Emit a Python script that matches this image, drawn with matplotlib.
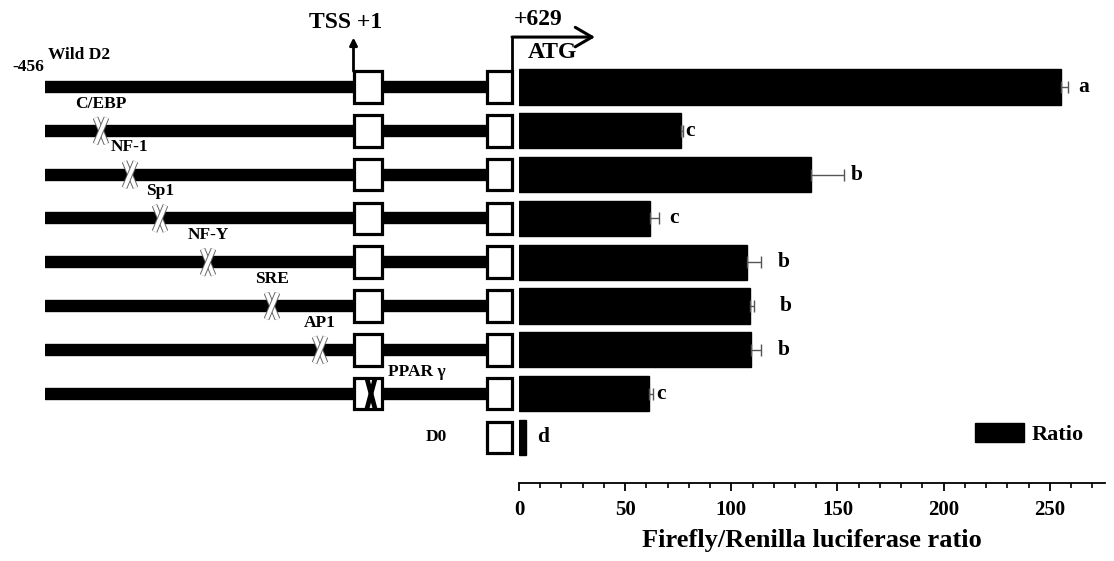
import matplotlib
matplotlib.use("Agg")
import matplotlib.pyplot as plt
import matplotlib.patheffects as pe
from matplotlib.patches import Rectangle
from matplotlib.ticker import MultipleLocator
import numpy as np

# ---------------- data ----------------
constructs = ["Wild D2", "C/EBP", "NF-1", "Sp1", "NF-Y", "SRE", "AP1", "PPAR γ", "D0"]
ratio = [255.5, 76.2, 137.5, 61.8, 107.3, 108.6, 109.4, 61.0, 3.2]
ratio_err = [3.3, 1.0, 15.6, 4.0, 6.9, 2.1, 4.4, 1.9, 0.0]
sig_letters = ["a", "c", "b", "c", "b", "b", "b", "c", "d"]
xticks = [0, 50, 100, 150, 200, 250]

# schematic layout (pixel-like x for the promoter diagram)
mut_sites = ["C/EBP", "NF-1", "Sp1", "NF-Y", "SRE", "AP1"]
mut_x = [101, 130, 160, 208, 272, 320]
letter_x = [266, 80.5, 159, 73, 124.5, 125.5, 124.5, 67, 11.5]

FONT = "Liberation Serif"
plt.rcParams["font.family"] = [FONT, "DejaVu Serif"]
plt.rcParams["font.weight"] = "bold"

W, H = 1114, 561
fig = plt.figure(figsize=(W / 100, H / 100), dpi=100)

row0_px = 87.0
row_step = 43.8
axis_px = 483.0
x0_px = 519.0
xend_px = 1105.0
xmax = 276.0

top_row = -row0_px / row_step
bot_row_ax = (axis_px - row0_px) / row_step
bot_row_fig = (H - row0_px) / row_step

# overlay axes for schematic (x in pixels, y in row units)
ax0 = fig.add_axes([0, 0, 1, 1])
ax0.set_xlim(0, W)
ax0.set_ylim(bot_row_fig, top_row)
ax0.axis("off")

# bar axes
ax = fig.add_axes([x0_px / W, 1 - axis_px / H, (xend_px - x0_px) / W, axis_px / H])
ax.set_xlim(0, xmax)
ax.set_ylim(bot_row_ax, top_row)
ax.patch.set_alpha(0)

rows = np.arange(len(constructs))
bars = ax.barh(rows, ratio, height=0.8, color="black", edgecolor="black", label="Ratio")
err = np.array(ratio_err)
m = err > 0
ax.errorbar(np.array(ratio)[m], rows[m], xerr=[np.zeros(m.sum()), err[m]], fmt="none",
            ecolor="#555555", elinewidth=1.0, capsize=4, capthick=1.0)
for r, lx, t in zip(rows, letter_x, sig_letters):
    ax.text(lx, r, t, ha="center", va="center", fontsize=15.5, fontweight="bold")

for s in ["top", "right", "left"]:
    ax.spines[s].set_visible(False)
ax.spines["bottom"].set_linewidth(1.3)
ax.set_yticks([])
ax.set_xticks(xticks)
ax.xaxis.set_minor_locator(MultipleLocator(10))
ax.tick_params(axis="x", which="major", length=6, width=1.3, labelsize=15, pad=6)
ax.tick_params(axis="x", which="minor", length=3.5, width=1.2)
for lab in ax.get_xticklabels():
    lab.set_fontweight("bold")
ax.set_xlabel("Firefly/Renilla luciferase ratio", fontsize=19, fontweight="bold", labelpad=7)

leg = ax.legend(handles=[bars], loc="center left",
                bbox_to_anchor=(975 / W, 1 - 434 / H), bbox_transform=fig.transFigure,
                frameon=False, fontsize=16, handlelength=2.2, handleheight=0.95,
                borderpad=0, borderaxespad=0, handletextpad=0.35)
for t in leg.get_texts():
    t.set_fontweight("bold")

# ---------------- schematic ----------------
line_start, box1_l, box1_r, box2_l, box2_r = 45, 353.5, 381.5, 487, 512
box_h = 0.72
for r in rows[:-1]:
    ax0.plot([line_start, box2_l], [r, r], color="black", lw=8.9, solid_capstyle="butt", zorder=1)
for r in rows:
    if r < len(rows) - 1:
        ax0.add_patch(Rectangle((box1_l, r - box_h / 2), box1_r - box1_l, box_h,
                                facecolor="white", edgecolor="black", lw=2.3, zorder=3))
    ax0.add_patch(Rectangle((box2_l, r - box_h / 2), box2_r - box2_l, box_h,
                            facecolor="white", edgecolor="black", lw=2.3, zorder=3))

# white mutation crosses
halfw, halfh = 5.5, 0.3
for i, (name, mx) in enumerate(zip(mut_sites, mut_x)):
    r = i + 1
    for sgn in (1, -1):
        ax0.plot([mx - halfw, mx + halfw], [r - sgn * halfh, r + sgn * halfh], color="white",
                 lw=2.8, solid_capstyle="butt", zorder=4,
                 path_effects=[pe.Stroke(linewidth=4.2, foreground="#666666"), pe.Normal()])
    ax0.text(mx, r - 0.62, name, ha="center", va="center", fontsize=12.5, fontweight="bold")

# PPAR gamma: black cross inside TSS box
r = 7
px = 371
for sgn in (1, -1):
    ax0.plot([px - 4, px + 4], [r - sgn * 0.34, r + sgn * 0.34], color="black", lw=3.4,
             solid_capstyle="butt", zorder=5)
ax0.text(388, r - 0.49, "PPAR γ", ha="left", va="center", fontsize=12.5, fontweight="bold")

# D0 label
ax0.text(436, 8, "D0", ha="center", va="center", fontsize=12.5, fontweight="bold")

# labels top-left
ax0.text(28, -0.46, "-456", ha="center", va="center", fontsize=12.5, fontweight="bold")
ax0.text(79, -0.73, "Wild D2", ha="center", va="center", fontsize=12.5, fontweight="bold")

# TSS arrow
ax0.annotate("", xy=(box1_l, -1.13), xytext=(box1_l, -box_h / 2),
             arrowprops=dict(arrowstyle="-|>", lw=2.0, color="black", mutation_scale=11,
                             shrinkA=0, shrinkB=0), zorder=2)
ax0.text(346, -1.48, "TSS +1", ha="center", va="center", fontsize=17, fontweight="bold")

# ATG arrow
ax0.plot([box2_r, box2_r], [-box_h / 2, -1.14], color="black", lw=2.0, zorder=2,
         solid_capstyle="projecting")
ax0.annotate("", xy=(595, -1.14), xytext=(box2_r, -1.14),
             arrowprops=dict(arrowstyle="->,head_length=0.6,head_width=0.35", lw=2.2,
                             color="black", mutation_scale=20, shrinkA=0, shrinkB=0), zorder=2)
ax0.text(538, -1.53, "+629", ha="center", va="center", fontsize=17, fontweight="bold")
ax0.text(552, -0.78, "ATG", ha="center", va="center", fontsize=17, fontweight="bold")

fig.savefig("out.png", dpi=100)
